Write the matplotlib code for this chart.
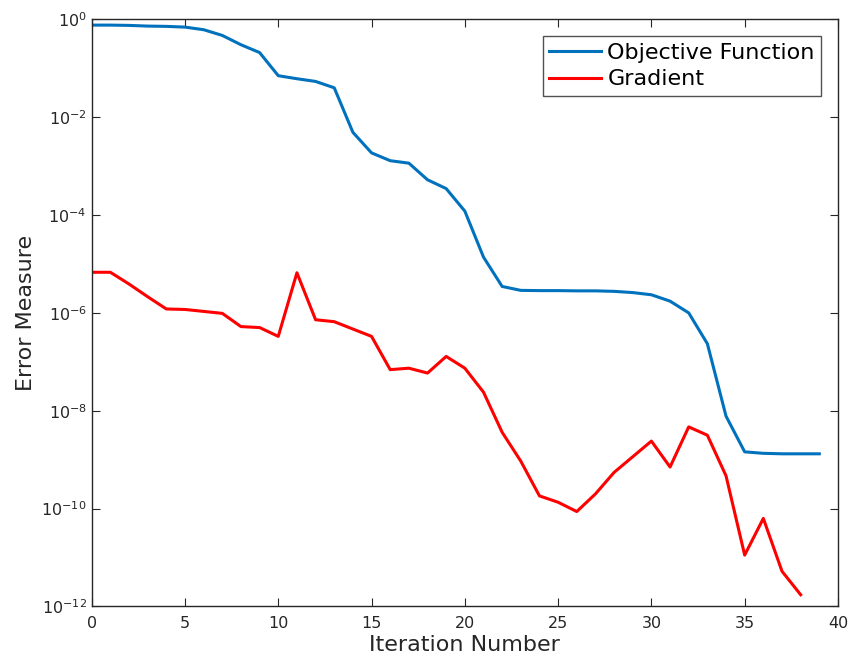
import numpy as np
import matplotlib
matplotlib.use("Agg")
import matplotlib.pyplot as plt

# log10 values
iters_obj = list(range(40))
obj_log10 = [-0.119, -0.119, -0.125, -0.139, -0.145, -0.16, -0.213, -0.33, -0.52, -0.68,
             -1.153, -1.215, -1.27, -1.40, -2.31, -2.73, -2.89, -2.94, -3.28, -3.46,
             -3.92, -4.86, -5.46, -5.54, -5.545, -5.545, -5.55, -5.55, -5.56, -5.585,
             -5.63, -5.76, -6.0, -6.63, -8.11, -8.84, -8.87, -8.88, -8.88, -8.88]
iters_grad = list(range(39))
grad_log10 = [-5.17, -5.17, -5.41, -5.67, -5.92, -5.93, -5.97, -6.01, -6.28, -6.30,
              -6.48, -5.18, -6.14, -6.18, -6.33, -6.48, -7.16, -7.13, -7.23, -6.89,
              -7.13, -7.62, -8.44, -9.03, -9.74, -9.87, -10.06, -9.70, -9.26, -8.94,
              -8.62, -9.15, -8.33, -8.50, -9.33, -10.95, -10.20, -11.28, -11.76]

obj = 10.0 ** np.array(obj_log10)
grad = 10.0 ** np.array(grad_log10)

plt.rcParams['font.family'] = ['DejaVu Sans']
fig = plt.figure(figsize=(8.49, 6.65), dpi=100)
ax = fig.add_axes([0.108, 0.088, 0.879, 0.883])

ax.semilogy(iters_obj, obj, color='#0072BD', lw=2.2, label='Objective Function')
ax.semilogy(iters_grad, grad, color='#FF0000', lw=2.2, label='Gradient')

ax.set_xlim(0, 40)
ax.set_ylim(1e-12, 1e0)
ax.set_xticks(range(0, 41, 5))
ax.set_yticks([10.0 ** k for k in range(-12, 1, 2)])
ax.set_yticklabels([r'$10^{%d}$' % k for k in range(-12, 1, 2)])
ax.minorticks_off()
ax.tick_params(direction='in', length=6, width=0.8, labelsize=11.5,
               top=True, right=True, colors='#262626', labelcolor='#262626')
ax.tick_params(axis='x', pad=7)
for s in ax.spines.values():
    s.set_color('#262626')
    s.set_linewidth(1.0)

ax.set_xlabel('Iteration Number', fontsize=16, color='#262626', labelpad=3)
ax.set_ylabel('Error Measure', fontsize=16, color='#262626')

leg = ax.legend(loc='upper right', fontsize=16, frameon=True, fancybox=False,
                edgecolor='#262626', handlelength=2.3, borderaxespad=0.75,
                handletextpad=0.3, labelspacing=0.3, borderpad=0.3)
leg.get_frame().set_linewidth(1.0)

fig.savefig('out.png', dpi=100, facecolor='white')
